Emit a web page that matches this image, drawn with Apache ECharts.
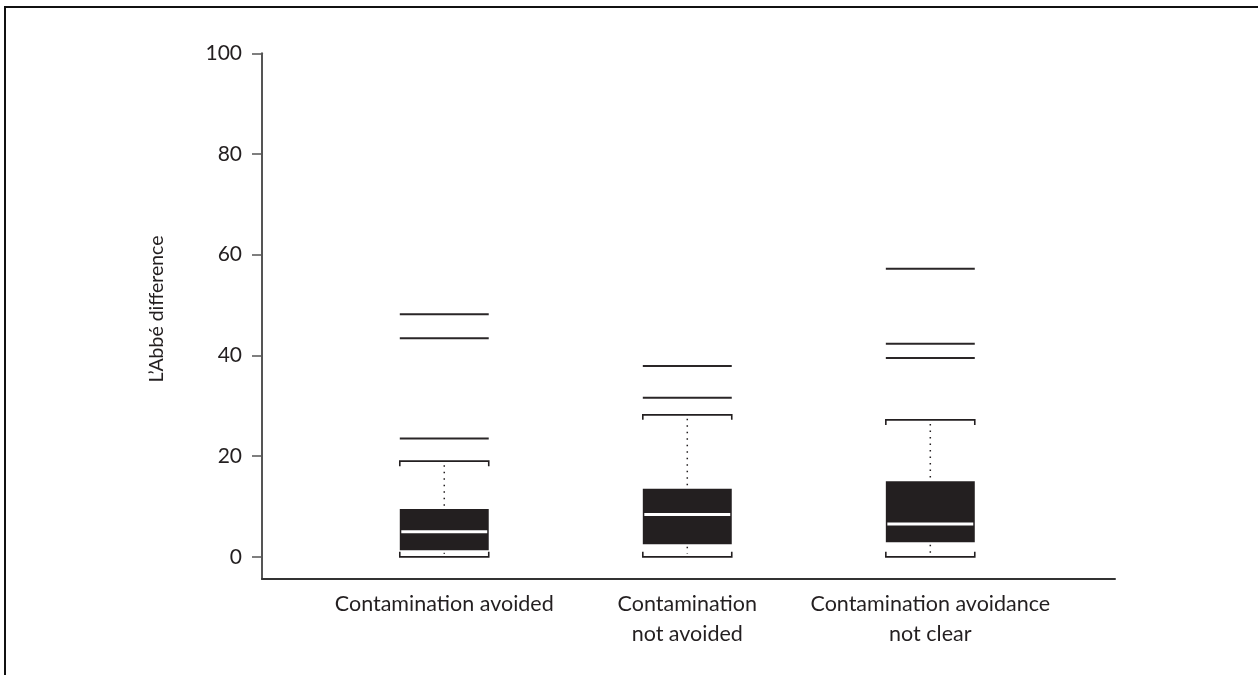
<!DOCTYPE html>
<html>
<head>
<meta charset="utf-8">
<script src="https://cdn.jsdelivr.net/npm/echarts@6/dist/echarts.min.js"></script>
<style>
  html, body { margin: 0; padding: 0; background: #fff; }
  #chart { width: 1258px; height: 675px; }
</style>
</head>
<body>
<div id="chart"></div>
<script>
// ---- data ----
const categories = ['Contamination avoided', 'Contamination\nnot avoided', 'Contamination avoidance\nnot clear'];
const whiskerLow = [0, 0, 0];
const q1 = [1.3, 2.5, 2.9];
const median = [5.0, 8.4, 6.5];
const q3 = [9.5, 13.5, 15.0];
const whiskerHigh = [19.0, 28.2, 27.2];
const outliers = [[23.5, 43.4, 48.2], [31.6, 37.9], [39.5, 42.3, 57.2]];
const yTicks = [0, 20, 40, 60, 80, 100];
const yTitle = 'L\u2019Abbé difference';

// ---- build series data ----
const boxData = categories.map((c, i) => [i + 1, whiskerLow[i], q1[i], median[i], q3[i], whiskerHigh[i]]);
const outlierData = [];
outliers.forEach((arr, i) => arr.forEach(v => outlierData.push([i + 1, v])));

const INK = '#231f20';
const BOX_FRAC = 0.366;
const FONT = 'Lato';

function renderBox(params, api) {
  const x = api.value(0);
  const halfW = api.size([1, 0])[0] * BOX_FRAC / 2;
  const pLow = api.coord([x, api.value(1)]);
  const pQ1 = api.coord([x, api.value(2)]);
  const pMed = api.coord([x, api.value(3)]);
  const pQ3 = api.coord([x, api.value(4)]);
  const pHigh = api.coord([x, api.value(5)]);
  const cx = pMed[0];
  const x0 = cx - halfW, x1 = cx + halfW;
  const dash = { stroke: INK, lineWidth: 1.5, lineDash: [1.5, 5], fill: null };
  const solid = { stroke: INK, lineWidth: 1.6, fill: null };
  return {
    type: 'group',
    children: [
      { type: 'line', shape: { x1: cx, y1: pHigh[1] + 4, x2: cx, y2: pQ3[1] }, style: dash },
      { type: 'line', shape: { x1: cx, y1: pQ1[1] + 2.5, x2: cx, y2: pLow[1] - 3 }, style: dash },
      { type: 'polyline', shape: { points: [[x0, pHigh[1] + 5], [x0, pHigh[1]], [x1, pHigh[1]], [x1, pHigh[1] + 5]] }, style: solid },
      { type: 'polyline', shape: { points: [[x0, pLow[1] - 5], [x0, pLow[1]], [x1, pLow[1]], [x1, pLow[1] - 5]] }, style: solid },
      { type: 'rect', shape: { x: x0, y: pQ3[1], width: x1 - x0, height: pQ1[1] - pQ3[1] }, style: { fill: INK } },
      { type: 'line', shape: { x1: x0 + 1.5, y1: pMed[1], x2: x1 - 1.5, y2: pMed[1] }, style: { stroke: '#fff', lineWidth: 3 } }
    ]
  };
}

function renderOutlier(params, api) {
  const x = api.value(0);
  const halfW = api.size([1, 0])[0] * BOX_FRAC / 2;
  const p = api.coord([x, api.value(1)]);
  return {
    type: 'line',
    shape: { x1: p[0] - halfW, y1: p[1], x2: p[0] + halfW, y2: p[1] },
    style: { stroke: '#2a2627', lineWidth: 2 }
  };
}

const chart = echarts.init(document.getElementById('chart'), null, { renderer: 'canvas' });
chart.setOption({
  animation: false,
  backgroundColor: '#fff',
  textStyle: { fontFamily: FONT },
  grid: { left: 262, right: 143, top: 53.3, bottom: 96 },
  xAxis: {
    type: 'value',
    min: 0.25,
    max: 3.76,
    axisLine: { show: true, onZero: false, lineStyle: { color: '#333', width: 2 } },
    axisTick: { show: false },
    splitLine: { show: false },
    axisLabel: {
      customValues: [1, 2, 3],
      formatter: v => categories[Math.round(v) - 1],
      color: INK,
      fontFamily: FONT,
      fontSize: 21.5,
      lineHeight: 30,
      margin: 10
    }
  },
  yAxis: {
    type: 'value',
    min: -4.4,
    max: 100,
    axisLine: { show: true, onZero: false, lineStyle: { color: '#555', width: 2 } },
    axisTick: { show: true, customValues: yTicks, length: 10, lineStyle: { color: '#555', width: 1.5 } },
    splitLine: { show: false },
    axisLabel: {
      customValues: yTicks,
      color: INK,
      fontFamily: FONT,
      fontSize: 21,
      margin: 20
    }
  },
  graphic: [
    { type: 'line', shape: { x1: 4, y1: 7, x2: 1258, y2: 7 }, style: { stroke: '#111', lineWidth: 2 } },
    { type: 'line', shape: { x1: 5, y1: 6, x2: 5, y2: 675 }, style: { stroke: '#111', lineWidth: 2 } },
    {
      type: 'text',
      x: 157, y: 309,
      rotation: Math.PI / 2,
      style: { text: yTitle, fill: INK, font: '19.5px Lato', align: 'center', verticalAlign: 'middle' }
    }
  ],
  series: [
    { type: 'custom', name: 'outliers', renderItem: renderOutlier, data: outlierData, encode: { x: 0, y: 1 }, z: 2 },
    { type: 'custom', name: 'box', renderItem: renderBox, data: boxData, encode: { x: 0, y: [1, 2, 3, 4, 5] }, z: 3 }
  ]
});
</script>
</body>
</html>
